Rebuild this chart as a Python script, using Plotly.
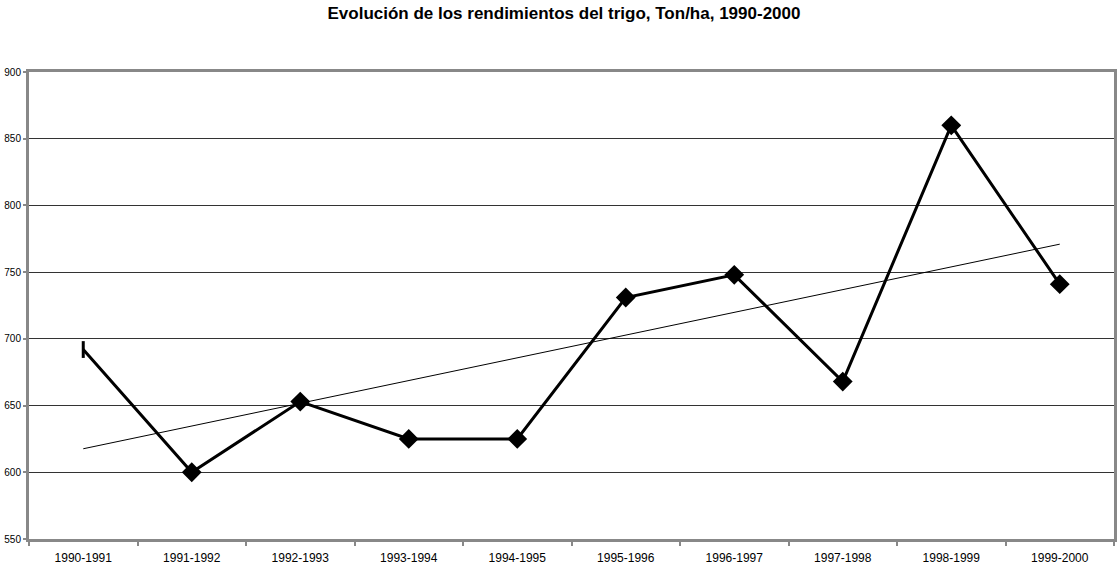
import numpy as np
import plotly.graph_objects as go

categories = ["1990-1991", "1991-1992", "1992-1993", "1993-1994", "1994-1995",
              "1995-1996", "1996-1997", "1997-1998", "1998-1999", "1999-2000"]
rendimiento = [692, 600, 653, 625, 625, 731, 748, 668, 860, 741]
y_ticks = [550, 600, 650, 700, 750, 800, 850, 900]

idx = np.arange(1, len(categories) + 1)
slope, intercept = np.polyfit(idx, rendimiento, 1)
trend = [slope * i + intercept for i in idx]

symbols = ["line-ns"] + ["diamond"] * (len(categories) - 1)

fig = go.Figure()
fig.add_trace(go.Scatter(
    x=categories, y=trend, mode="lines",
    line=dict(color="black", width=1), hoverinfo="skip", showlegend=False))
fig.add_trace(go.Scatter(
    x=categories, y=rendimiento, mode="lines+markers",
    line=dict(color="black", width=3),
    marker=dict(symbol=symbols, size=12, color="black",
                line=dict(color="black", width=3)),
    showlegend=False))

fig.update_layout(
    width=1119, height=567,
    margin=dict(l=29, r=2, t=72, b=27),
    paper_bgcolor="white", plot_bgcolor="white",
    font=dict(family="Liberation Sans, Arial, sans-serif", color="black"),
    title=dict(text="<b>Evolución de los rendimientos del trigo, Ton/ha, 1990-2000</b>",
               x=0.504, xanchor="center", y=0.988, yanchor="top",
               font=dict(size=17, color="black")),
)
fig.update_xaxes(
    type="category", range=[-0.5, 9.5],
    showline=True, linecolor="#888888", linewidth=3, mirror=True,
    ticks="outside", tickson="boundaries", ticklen=4, tickcolor="#888888", tickwidth=2,
    showgrid=False, tickfont=dict(size=12), ticklabelstandoff=6)
fig.update_yaxes(
    range=[550, 900], tickvals=y_ticks,
    showline=True, linecolor="#888888", linewidth=3, mirror=True,
    ticks="outside", ticklen=3, tickcolor="#888888", tickwidth=2,
    showgrid=True, gridcolor="#333333", gridwidth=1,
    zeroline=False, tickfont=dict(size=10))

fig.write_html("out.html", config={"displayModeBar": False},
               post_script="document.body.style.margin='0';document.body.style.overflow='hidden';")
